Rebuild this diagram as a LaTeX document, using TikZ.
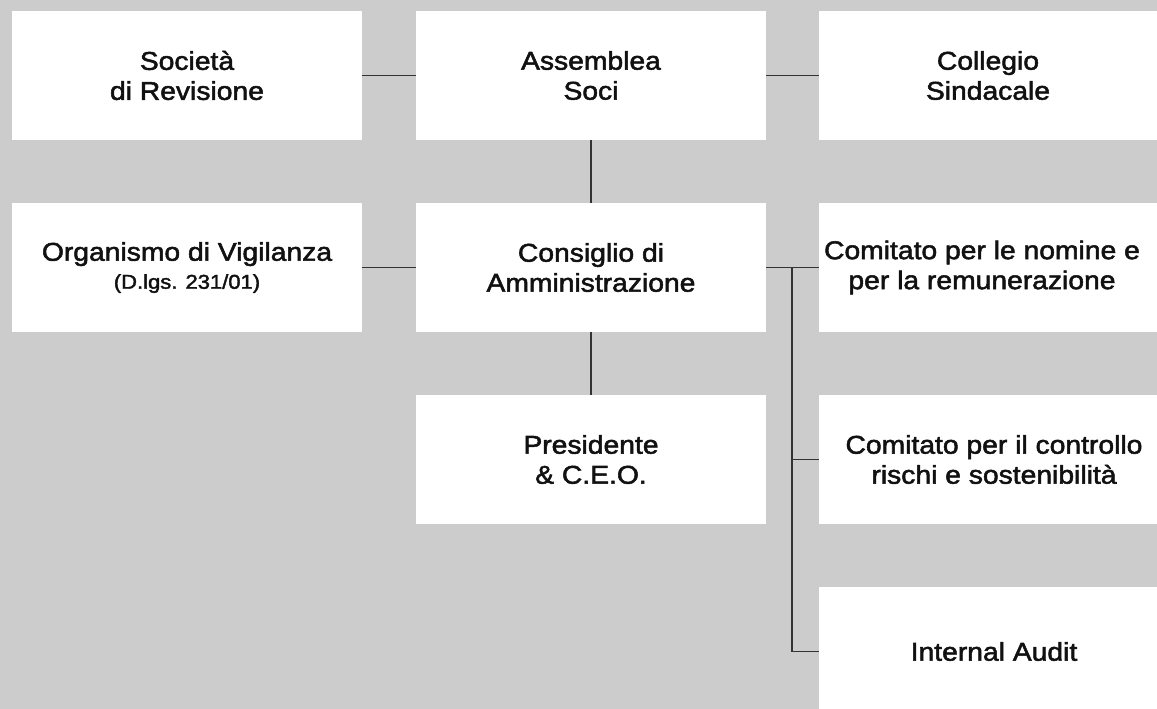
\documentclass[tikz,border=0pt]{standalone}
\usepackage{fontspec}
\setmainfont{Liberation Sans}[FakeStretch=1.1,FakeBold=2]
\definecolor{bg}{HTML}{CCCCCC}
\definecolor{ink}{HTML}{111111}
\definecolor{wire}{HTML}{333333}
\begin{document}
\begin{tikzpicture}[x=1pt,y=-1pt,
  box/.style={fill=white, minimum width=350pt, minimum height=129pt, inner sep=0pt},
  txt/.style={align=center, inner sep=0pt, text=ink, font=\fontsize{25.7}{30}\selectfont},
  link/.style={draw=wire, line width=1.3pt}]
\useasboundingbox (0,0) rectangle (1157,709);
\clip (0,0) rectangle (1157,709);
\fill[bg] (0,0) rectangle (1157,709);
% boxes
\node[box] (soc) at (187,75.5) {};
\node[box] (ass) at (591,75.5) {};
\node[box] (col) at (994,75.5) {};
\node[box] (odv) at (187,267.5) {};
\node[box] (cda) at (591,267.5) {};
\node[box] (nom) at (994,267.5) {};
\node[box] (pres) at (591,459.5) {};
\node[box] (crs) at (994,459.5) {};
\node[box] (ia) at (994,651.5) {};
% texts
\node[txt] (socT) at (soc) {Società\\di Revisione};
\node[txt] (assT) at (ass) {Assemblea\\Soci};
\node[txt] (colT) at (988,75.5) {Collegio\\Sindacale};
\node[txt] (odvT) at (187,267.5) {Organismo di Vigilanza\\[-2pt]{\fontsize{20}{24}\selectfont(D.lgs. 231/01)}};
\node[txt] (cdaT) at (cda) {Consiglio di\\Amministrazione};
\node[txt] (nomT) at (982,267.5) {Comitato per le nomine e\\per la remunerazione};
\node[txt] (presT) at (pres) {Presidente\\\& C.E.O.};
\node[txt] (crsT) at (crs) {Comitato per il controllo\\rischi e sostenibilità};
\node[txt] (iaT) at (ia) {Internal Audit};
% connectors
\draw[link] (soc.east) -- (ass.west);
\draw[link] (ass.east) -- (col.west);
\draw[link] (ass.south) -- (cda.north);
\draw[link] (odv.east) -- (cda.west);
\draw[link] (cda.south) -- (pres.north);
\draw[link] (cda.east) -- (nom.west);
\coordinate (bus) at (792,267.5);
\draw[link] (bus) |- (ia.west);
\draw[link] (bus |- crs.west) -- (crs.west);
\end{tikzpicture}
\end{document}
